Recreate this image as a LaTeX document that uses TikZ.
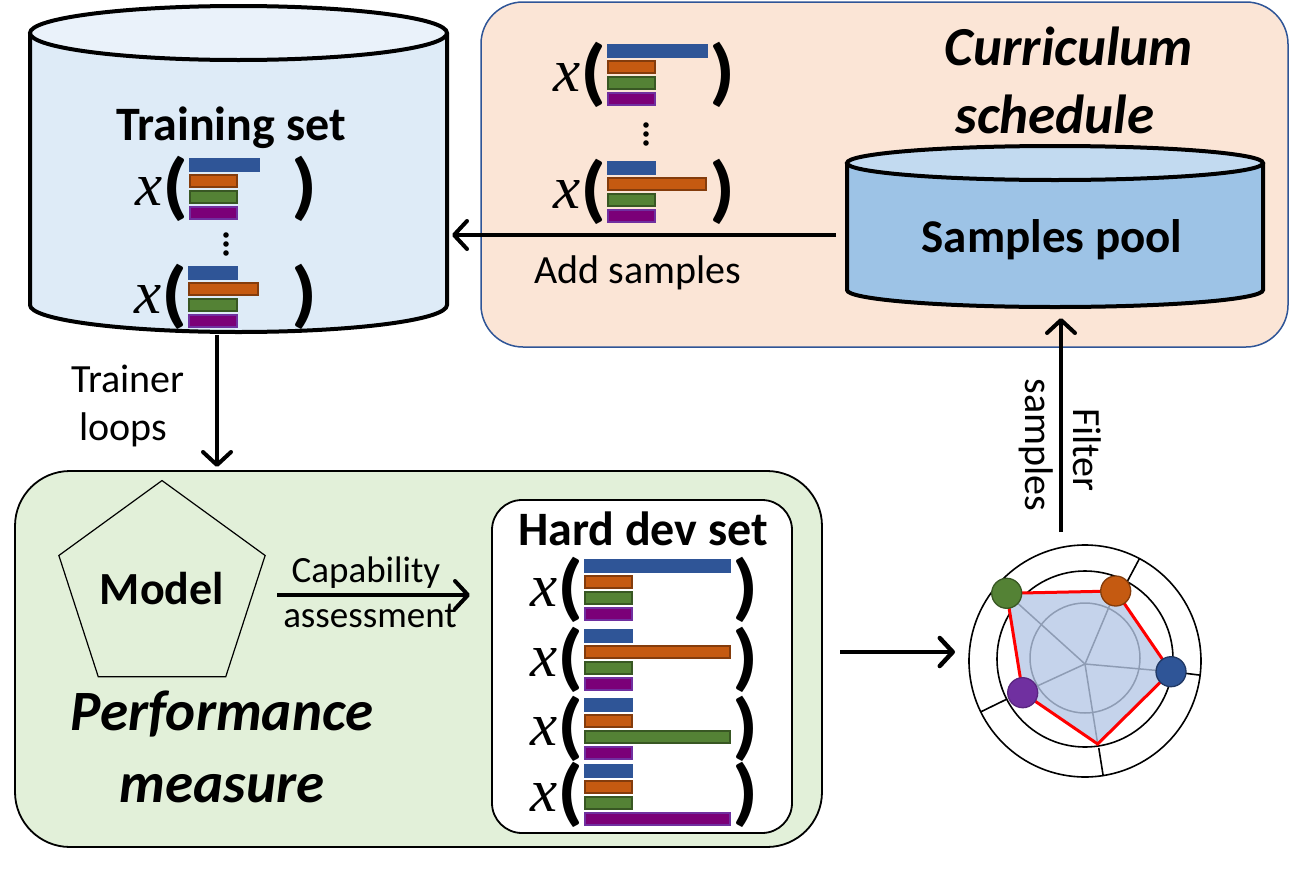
\documentclass[tikz,border=0pt]{standalone}
\usepackage{fontspec}
\usepackage{graphicx}
\setmainfont{Carlito}
\newfontfamily\xserif{Liberation Serif}
\usetikzlibrary{arrows.meta,shapes.geometric,calc}
\definecolor{cBlue}{HTML}{2F5597}
\definecolor{cBlueD}{HTML}{203864}
\definecolor{cOrange}{HTML}{C55A11}
\definecolor{cOrangeD}{HTML}{843C0C}
\definecolor{cGreen}{HTML}{548235}
\definecolor{cGreenD}{HTML}{385723}
\definecolor{cPurple}{HTML}{7B0078}
\definecolor{cPurpleD}{HTML}{7030A0}
\definecolor{dPurple}{HTML}{7030A0}
\definecolor{dPurpleD}{HTML}{5A2680}
\definecolor{trainBody}{HTML}{DEEBF7}
\definecolor{trainTop}{HTML}{EAF2FA}
\definecolor{poolBody}{HTML}{9DC3E6}
\definecolor{poolTop}{HTML}{C2DAF0}
\definecolor{currFill}{HTML}{FBE5D6}
\definecolor{currLine}{HTML}{2F5597}
\definecolor{perfFill}{HTML}{E2F0D9}
\definecolor{radarFill}{HTML}{C5D3EB}
\definecolor{radarGray}{HTML}{8E9CB4}
\newcommand{\samp}[8]{%
  \node[xlab] (#1x) at (#2-41,#3+32) {x};
  \node[paren] (#1l) at (#2-14,#3+30) {\scalebox{1.35}[1.18]{(}};
  \node[paren] (#1r) at (#2+#8,#3+30) {\scalebox{1.35}[1.18]{)}};
  \draw[bB] (#2,#3) rectangle ++(#4,12);
  \draw[bO] (#2,#3+16) rectangle ++(#5,12);
  \draw[bG] (#2,#3+32) rectangle ++(#6,12);
  \draw[bP] (#2,#3+48) rectangle ++(#7,12);
}
\begin{document}
\begin{tikzpicture}[x=1pt,y=-1pt,
  bB/.style={fill=cBlue,draw=cBlue,line width=1.2pt},
  bO/.style={fill=cOrange,draw=cOrangeD,line width=1.5pt},
  bG/.style={fill=cGreen,draw=cGreenD,line width=1.5pt},
  bP/.style={fill=cPurple,draw=cPurpleD,line width=1.5pt},
  xlab/.style={inner sep=0,font=\fontsize{61}{61}\selectfont\xserif\itshape},
  paren/.style={inner sep=0,font=\fontsize{62}{62}\selectfont\bfseries},
  cyl/.style={draw=black,line width=4pt},
  arr/.style={line width=4pt,-{Straight Barb[round,length=13pt,width=28pt]}},
  lbl/.style={font=\fontsize{40}{48}\selectfont,inner sep=0,anchor=base},
  caplbl/.style={font=\fontsize{37}{44}\selectfont,inner sep=0,anchor=base},
  title/.style={font=\fontsize{48}{56}\selectfont\bfseries,inner sep=0,anchor=base},
  ititle/.style={font=\fontsize{57}{62}\selectfont\bfseries\itshape,inner sep=0,anchor=base},
  ghost/.style={inner sep=0,outer sep=0},
  dotc/.style={line width=1.3pt}
]
\useasboundingbox (0,0) rectangle (1291,873);
\fill[white] (0,0) rectangle (1291,873);

% ---------- boxes ----------
\node[ghost,draw=currLine,fill=currFill,line width=1.5pt,rounded corners=42pt,
      minimum width=807pt,minimum height=345pt] (curr) at (884.5,174.5) {};
\node[ghost,draw=black,fill=perfFill,line width=1.8pt,rounded corners=55pt,
      minimum width=807pt,minimum height=376pt] (perf) at (418.5,659) {};
\node[ghost,draw=black,fill=white,line width=1.8pt,rounded corners=30pt,
      minimum width=300pt,minimum height=333pt] (hard) at (642,666.5) {};

% ---------- training set cylinder ----------
\node[ghost,minimum width=417pt,minimum height=329pt] (train) at (238.5,170.5) {};
\fill[trainBody] (30,33) -- (30,305) arc[start angle=180,end angle=0,x radius=208.5,y radius=27] -- (447,33) -- cycle;
\draw[cyl] (30,33) -- (30,305) arc[start angle=180,end angle=0,x radius=208.5,y radius=27] -- (447,33);
\filldraw[cyl,fill=trainTop] (238.5,33) ellipse[x radius=208.5,y radius=27];
\node[title] (tstitle) at (231,140) {Training set};
\samp{ta}{190}{159}{69}{47}{47}{47}{115}
\samp{tb}{189}{267}{48}{69}{48}{48}{116}
\foreach \d in {0,9,18} \fill (226,235+\d) circle[radius=2.8];

% ---------- samples pool cylinder ----------
\node[ghost,minimum width=416pt,minimum height=178pt] (pool) at (1055,235) {};
\fill[poolBody] (847,163) -- (847,290) arc[start angle=180,end angle=0,x radius=208,y radius=17] -- (1263,163) -- cycle;
\draw[cyl] (847,163) -- (847,290) arc[start angle=180,end angle=0,x radius=208,y radius=17] -- (1263,163);
\filldraw[cyl,fill=poolTop] (1055,163) ellipse[x radius=208,y radius=17];
\node[title,font=\fontsize{47}{56}\selectfont\bfseries] (pooltxt) at (1052,252) {Samples pool};

% ---------- curriculum ----------
\node[ititle,font=\fontsize{55}{60}\selectfont\bfseries\itshape] (cur1) at (1069,65) {Curriculum};
\node[ititle,font=\fontsize{55}{60}\selectfont\bfseries\itshape] (cur2) at (1055,133) {schedule};
\samp{ca}{608}{45}{99}{47}{47}{47}{115}
\samp{cb}{608}{162}{47}{98}{47}{47}{115}
\foreach \d in {0,9,18} \fill (646,125+\d) circle[radius=2.8];

% ---------- add samples ----------
\draw[arr] ($(pool.west)+(-11,0)$) -- ($(train.east |- pool.west)+(5,0)$);
\node[lbl] (addlbl) at (638,283) {Add samples};

% ---------- trainer loops ----------
\draw[arr] ($(train.south)+(-21.5,0)$) -- ($(perf.north -| train.south)+(-21.5,-4)$);
\node[lbl] (tr1) at (128,392) {Trainer};
\node[lbl] (tr2) at (123,440) {loops};

% ---------- model ----------
\node[regular polygon,regular polygon sides=5,minimum size=211pt,inner sep=0,
      draw=black,line width=1.2pt,font=\fontsize{46}{52}\selectfont\bfseries] (model) at (162,589) {Model};
\coordinate (capS) at ($(model.center)+(115,6)$);
\draw[arr,shorten >=22pt] (capS) -- (capS -| hard.west);
\node[caplbl] (cap1) at (366,582) {Capability};
\node[caplbl] (cap2) at (370,627) {assessment};
\node[ititle] (perf1) at (222,730) {Performance};
\node[ititle] (perf2) at (222,802) {measure};

% ---------- hard dev set ----------
\node[title] (hdtitle) at (643,545) {Hard dev set};
\samp{ha}{585}{560}{145}{47}{47}{47}{161}
\samp{hb}{585}{630}{47}{145}{47}{47}{161}
\samp{hc}{585}{699}{47}{47}{145}{47}{161}
\samp{hd}{585}{765}{47}{47}{47}{145}{161}

% ---------- radar ----------
\node[ghost,circle,minimum size=232pt] (radar) at (1085,661) {};
\draw[line width=1.6pt] (1085,661) circle[radius=116];
\draw[line width=1.6pt] (1085,659) circle[radius=88];
\foreach \a in {62,353,279,206,134}
  \draw[line width=1.6pt] ($(1085,661)+(-\a:88)$) -- ($(1085,661)+(-\a:116)$);
\fill[radarFill] (1006.7,593.3) -- (1115.7,591) -- (1171,671.7) -- (1097.7,744) -- (1022.7,692.7) -- cycle;
\draw[radarGray,line width=1.5pt] (1085,658) circle[radius=55];
\foreach \p in {(1006.7,593.3),(1115.7,591),(1171,671.7),(1097.7,744),(1022.7,692.7)}
  \draw[radarGray,line width=1.5pt] (1085,664) -- \p;
\draw[red,line width=3pt] (1006.7,593.3) -- (1115.7,591) -- (1171,671.7) -- (1097.7,744) -- (1022.7,692.7) -- cycle;
\filldraw[dotc,fill=cGreen,draw=cGreenD] (1006.7,593.3) circle[radius=15];
\filldraw[dotc,fill=cOrange,draw=cOrangeD] (1115.7,591) circle[radius=15];
\filldraw[dotc,fill=cBlue,draw=cBlueD] (1171,671.7) circle[radius=15];
\filldraw[dotc,fill=dPurple,draw=dPurpleD] (1022.7,692.7) circle[radius=15];

% ---------- arrows to / from radar ----------
\draw[arr,line width=4.5pt] ($(perf.east |- radar.west)+(18,-9)$) -- ($(radar.west)+(-14,-9)$);
\draw[arr] ($(radar.north)+(-24,-13)$) -- ($(pool.south)+(6,-6)$);
\node[lbl,rotate=-90] (filt1) at (1073,450) {Filter};
\node[lbl,rotate=-90] (filt2) at (1025,445) {samples};
\end{tikzpicture}
\end{document}
